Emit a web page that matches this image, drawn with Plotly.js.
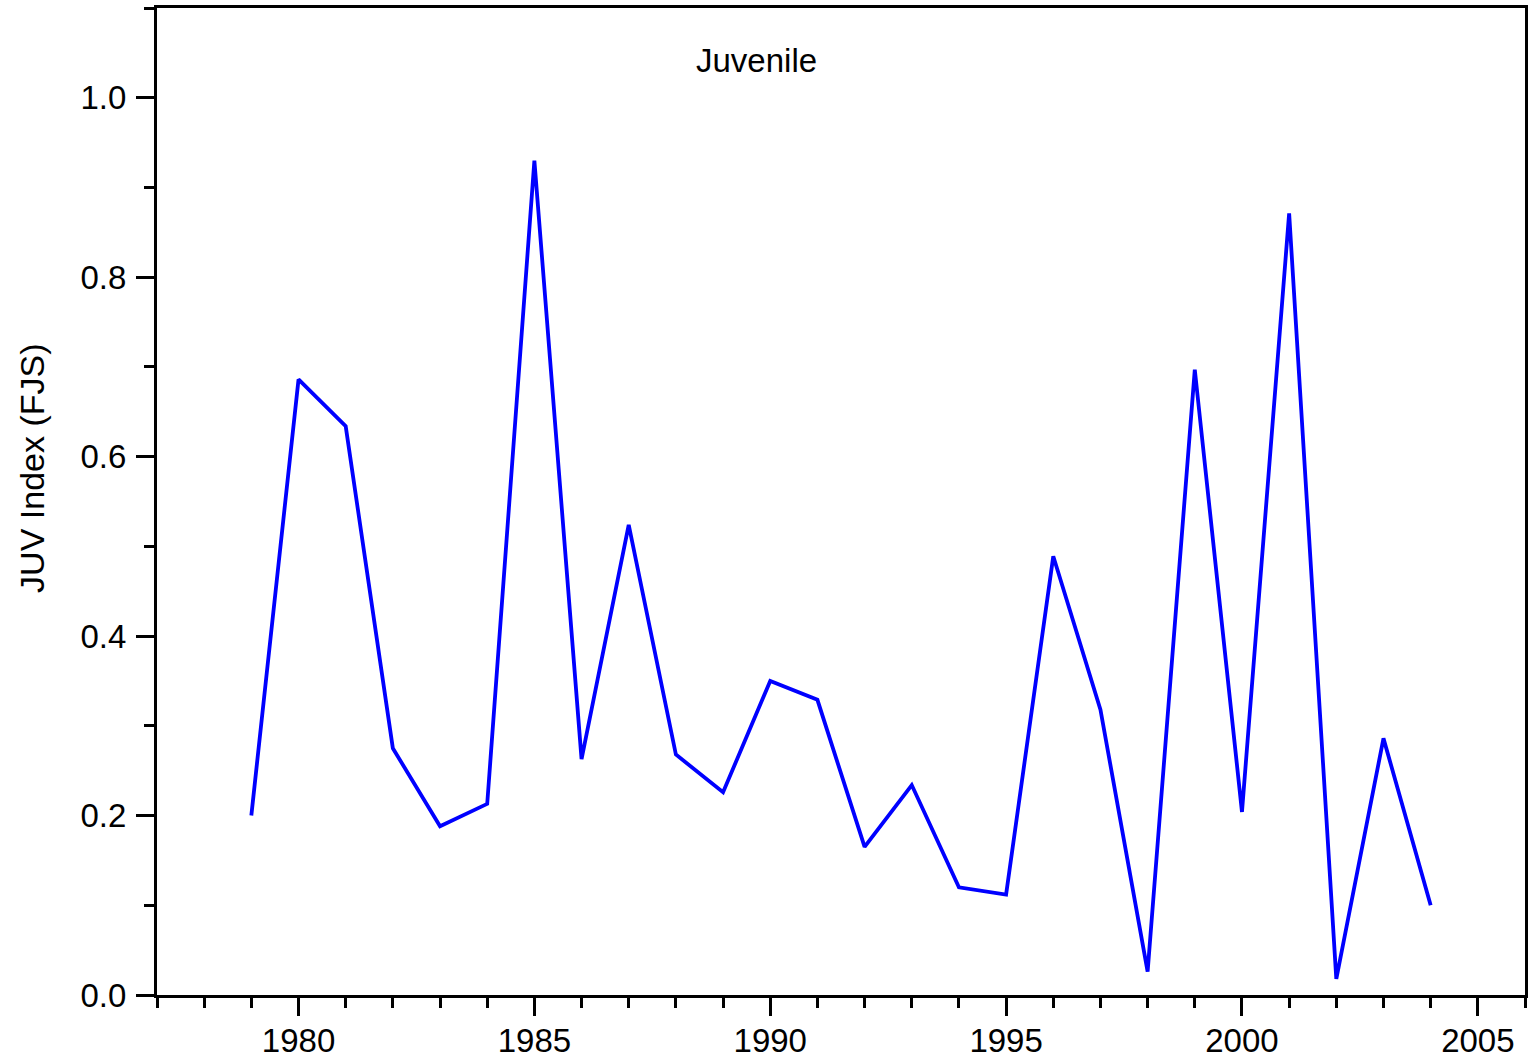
<!DOCTYPE html>
<html>
<head>
<meta charset="utf-8">
<script src="https://cdn.plot.ly/plotly-3.0.1.min.js"></script>
<style>html,body{margin:0;padding:0;background:#fff;}#chart{width:1529px;height:1062px;}</style>
</head>
<body>
<div id="chart"></div>
<script>
const years = [1979,1980,1981,1982,1983,1984,1985,1986,1987,1988,1989,1990,1991,1992,1993,1994,1995,1996,1997,1998,1999,2000,2001,2002,2003,2004];
const juvIndex = [0.200,0.686,0.634,0.275,0.188,0.213,0.930,0.263,0.524,0.268,0.226,0.350,0.329,0.165,0.234,0.120,0.112,0.489,0.318,0.026,0.697,0.204,0.871,0.018,0.286,0.100];
const yTickVals = [0,0.2,0.4,0.6,0.8,1.0];
const xTickVals = [1980,1985,1990,1995,2000,2005];
const yTitle = 'JUV Index (FJS)';
const panelLabel = 'Juvenile';

const font = "Liberation Sans, Arial, sans-serif";
const trace = {
  x: years, y: juvIndex, type: 'scatter', mode: 'lines',
  line: {color: '#0000FF', width: 3.8}, hoverinfo: 'x+y'
};
const layout = {
  width: 1529, height: 1062,
  margin: {l: 157, r: 4, t: 8, b: 67},
  paper_bgcolor: '#fff', plot_bgcolor: '#fff',
  showlegend: false,
  font: {family: font, color: '#000', size: 33},
  xaxis: {
    range: [1977, 2006], tickvals: xTickVals, ticks: 'outside', ticklen: 18, tickwidth: 3,
    tickcolor: '#000', showline: true, linewidth: 3, linecolor: '#000', mirror: true,
    showgrid: false, zeroline: false, tickfont: {size: 33, family: font}, ticklabelstandoff: -4,
    minor: {dtick: 1, tick0: 1977, ticks: 'outside', ticklen: 10, tickwidth: 3, tickcolor: '#000', showgrid: false}
  },
  yaxis: {
    range: [0, 1.1], tickvals: yTickVals, tickformat: '.1f', ticks: 'outside', ticklen: 18, tickwidth: 3,
    tickcolor: '#000', showline: true, linewidth: 3, linecolor: '#000', mirror: true,
    showgrid: false, zeroline: false, tickfont: {size: 33, family: font}, ticklabelstandoff: 3,
    minor: {dtick: 0.1, tick0: 0, ticks: 'outside', ticklen: 10, tickwidth: 3, tickcolor: '#000', showgrid: false}
  },
  annotations: [{
    text: panelLabel, xref: 'paper', yref: 'paper', x: 0.438, y: 0.947,
    xanchor: 'center', yanchor: 'middle', showarrow: false,
    font: {size: 33, family: font, color: '#000'}
  }, {
    text: yTitle, xref: 'paper', yref: 'paper', x: -0.0914, y: 0.534, textangle: -90,
    xanchor: 'center', yanchor: 'middle', showarrow: false,
    font: {size: 34, family: font, color: '#000'}
  }]
};
Plotly.newPlot('chart', [trace], layout, {displayModeBar: false, staticPlot: true});
</script>
</body>
</html>
